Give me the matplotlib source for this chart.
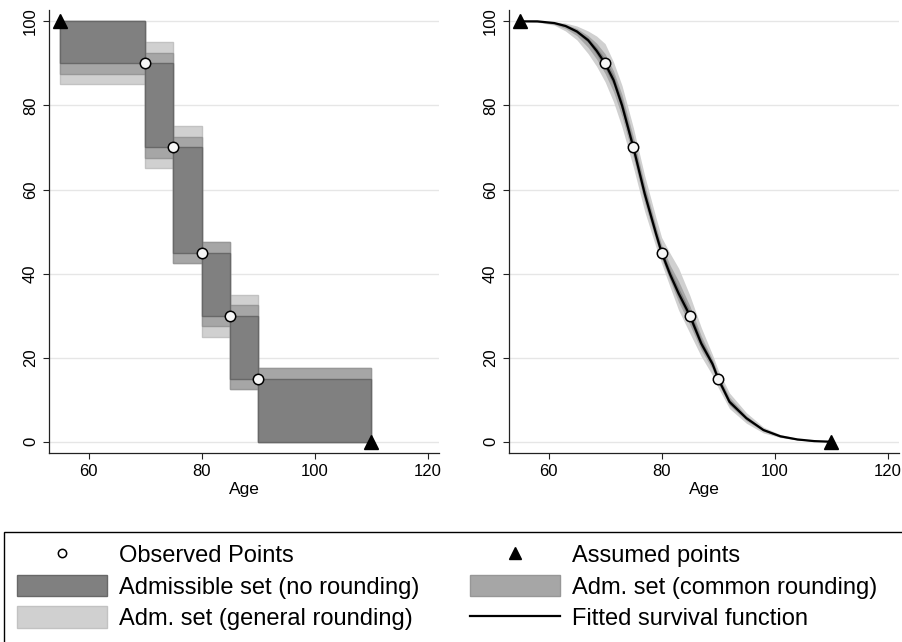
import matplotlib
matplotlib.use("Agg")
import matplotlib.pyplot as plt
import numpy as np
from matplotlib.patches import Patch, Rectangle
from matplotlib.lines import Line2D

plt.rcParams['font.family'] = ['Liberation Sans', 'DejaVu Sans']

# observed survival points (age, % still alive)
obs_age = [70, 75, 80, 85, 90]
obs_surv = [90, 70, 45, 30, 15]

# assumed start / end points
assumed_age = [55, 110]
assumed_surv = [100, 0]

# half-width of rounding interval at each knot (start, observed..., end)
common_tol = [0, 2.5, 2.5, 2.5, 2.5, 2.5, 0]
general_tol = [0, 5, 5, 2.5, 5, 2.5, 0]

# fitted survival function and envelopes
fit_age = [55, 58, 61, 63, 65, 67, 68.5, 70, 71.5, 73, 75, 77, 79, 80, 81.5,
           83, 85, 87, 89, 90, 92, 95, 98, 101, 104, 107, 110]
fit_surv = [100, 100, 99.6, 98.9, 97.6, 95.5, 93.0, 90, 86.0, 80.0, 70, 59.0,
            49.5, 45, 39.8, 35.3, 30, 23.4, 18.5, 15, 9.5, 5.6, 2.8, 1.3, 0.55,
            0.15, 0]
upper_gen = [100, 100, 99.9, 99.6, 98.9, 97.7, 96.5, 94.7, 90.3, 84.7, 74.7,
             63.3, 53.3, 48.6, 44.8, 41.3, 34.8, 27.2, 20.7, 17.1, 11.6, 6.9,
             3.5, 1.7, 0.8, 0.25, 0]
lower_gen = [100, 99.8, 99.1, 97.7, 95.6, 92.3, 89.3, 85.6, 80.8, 74.8, 65.3,
             54.8, 46.3, 42.4, 36.8, 31.3, 25.8, 20.3, 15.8, 12.9, 7.9, 4.4,
             2.1, 1.0, 0.4, 0.1, 0]
upper_com = [100, 100, 99.8, 99.3, 98.3, 96.6, 94.8, 92.3, 88.2, 82.5, 72.5,
             61.2, 51.3, 46.8, 42.0, 38.2, 32.3, 25.2, 19.6, 16.1, 10.6, 6.2,
             3.1, 1.5, 0.65, 0.2, 0]
lower_com = [100, 99.9, 99.3, 98.3, 96.6, 93.8, 91.0, 87.6, 83.2, 77.3, 67.6,
             56.8, 47.8, 43.5, 38.3, 33.2, 27.8, 21.8, 17.2, 13.9, 8.7, 5.0,
             2.5, 1.1, 0.45, 0.12, 0]
upper_none = [100, 100, 99.7, 99.1, 97.9, 96.1, 93.8, 91.1, 87.2, 81.3, 71.3,
              60.2, 50.5, 46.0, 40.9, 36.6, 31.2, 24.4, 19.1, 15.6, 10.1, 5.9,
              2.95, 1.4, 0.6, 0.17, 0]
lower_none = [100, 100, 99.5, 98.7, 97.2, 95.0, 92.1, 88.8, 84.8, 78.7, 68.7,
              57.8, 48.5, 44.0, 38.7, 34.2, 28.8, 22.4, 17.9, 14.4, 8.9, 5.3,
              2.65, 1.2, 0.5, 0.13, 0]

x_ticks = [60, 80, 100, 120]
y_ticks = [0, 20, 40, 60, 80, 100]

DARK, DARK_EDGE = '#808080', '#686868'
MID, MID_EDGE = '#a6a6a6', '#979797'
LIGHT, LIGHT_EDGE = '#d0d0d0', '#c2c2c2'

fig = plt.figure(figsize=(9.03, 6.42), dpi=100)
ax1 = fig.add_axes([0.0543, 0.2949, 0.4319, 0.6895])
ax2 = fig.add_axes([0.5637, 0.2949, 0.4319, 0.6895])


def style_axis(ax):
    ax.set_xlim(53.0, 122.0)
    ax.set_ylim(-2.6, 102.7)
    ax.set_xticks(x_ticks)
    ax.set_yticks(y_ticks)
    for side in ['top', 'right']:
        ax.spines[side].set_visible(False)
    for side in ['left', 'bottom']:
        ax.spines[side].set_color('#222222')
        ax.spines[side].set_linewidth(0.9)
    ax.tick_params(length=4, width=0.8, color='#222222', labelsize=12, pad=4)
    for lab in ax.get_yticklabels():
        lab.set_rotation(90)
        lab.set_va('center')
    ax.grid(axis='y', color='#e6e6e6', linewidth=1)
    ax.set_axisbelow(True)
    ax.set_xlabel('Age', fontsize=12.5, labelpad=2)


# ---- left panel: admissible boxes ----
knot_age = np.array([assumed_age[0]] + obs_age + [assumed_age[1]], dtype=float)
knot_surv = np.array([assumed_surv[0]] + obs_surv + [assumed_surv[1]], dtype=float)
left = knot_age[:-1]
width = np.diff(knot_age)

for tol, fc, ec in [(general_tol, LIGHT, LIGHT_EDGE),
                    (common_tol, MID, MID_EDGE),
                    ([0] * 7, DARK, DARK_EDGE)]:
    tol = np.array(tol, dtype=float)
    top = knot_surv[:-1] + tol[:-1]
    bot = knot_surv[1:] - tol[1:]
    ax1.bar(left, top - bot, bottom=bot, width=width, align='edge',
            color=fc, edgecolor=ec, linewidth=1, zorder=2)

ax1.plot(obs_age, obs_surv, 'o', ms=7.5, mfc='#f7f7f7', mec='black',
         mew=1.1, zorder=5)
ax1.plot(assumed_age, assumed_surv, '^', ms=9.5, color='black', zorder=5,
         clip_on=False)
style_axis(ax1)

# ---- right panel: fitted survival with envelopes ----
ax2.fill_between(fit_age, lower_gen, upper_gen, color=LIGHT, lw=0, zorder=2)
ax2.fill_between(fit_age, lower_com, upper_com, color=MID, lw=0, zorder=2)
ax2.fill_between(fit_age, lower_none, upper_none, color=DARK, lw=0, zorder=2)
ax2.plot(fit_age, fit_surv, color='black', lw=1.6, zorder=3)
ax2.plot(obs_age, obs_surv, 'o', ms=7.5, mfc='#f7f7f7', mec='black',
         mew=1.1, zorder=5)
ax2.plot(assumed_age, assumed_surv, '^', ms=9.5, color='black', zorder=5,
         clip_on=False)
style_axis(ax2)

# ---- legend ----
handles = [
    Line2D([], [], ls='', marker='o', ms=6, mfc='white', mec='black', mew=1.1),
    Patch(facecolor=DARK, edgecolor=DARK_EDGE),
    Patch(facecolor=LIGHT, edgecolor=LIGHT_EDGE),
    Line2D([], [], ls='', marker='^', ms=9, color='black'),
    Patch(facecolor=MID, edgecolor=MID_EDGE),
    Line2D([], [], color='black', lw=1.6),
]
labels = ['Observed Points', 'Admissible set (no rounding)',
          'Adm. set (general rounding)', 'Assumed points',
          'Adm. set (common rounding)', 'Fitted survival function']
fig.legend(handles, labels, ncol=2, loc='upper left',
           bbox_to_anchor=(17 / 903, 1 - 543 / 642), frameon=False,
           borderpad=0, borderaxespad=0, fontsize=17, handlelength=3.8,
           handleheight=1.05, handletextpad=0.5, labelspacing=0.32,
           columnspacing=2.18)

# legend frame runs off the right and bottom edges
fig.add_artist(Rectangle((4 / 903, -0.1), 2.0, 1 - 532 / 642 + 0.1,
                         transform=fig.transFigure, fill=False,
                         edgecolor='black', linewidth=1))

fig.savefig('out.png', dpi=100)
